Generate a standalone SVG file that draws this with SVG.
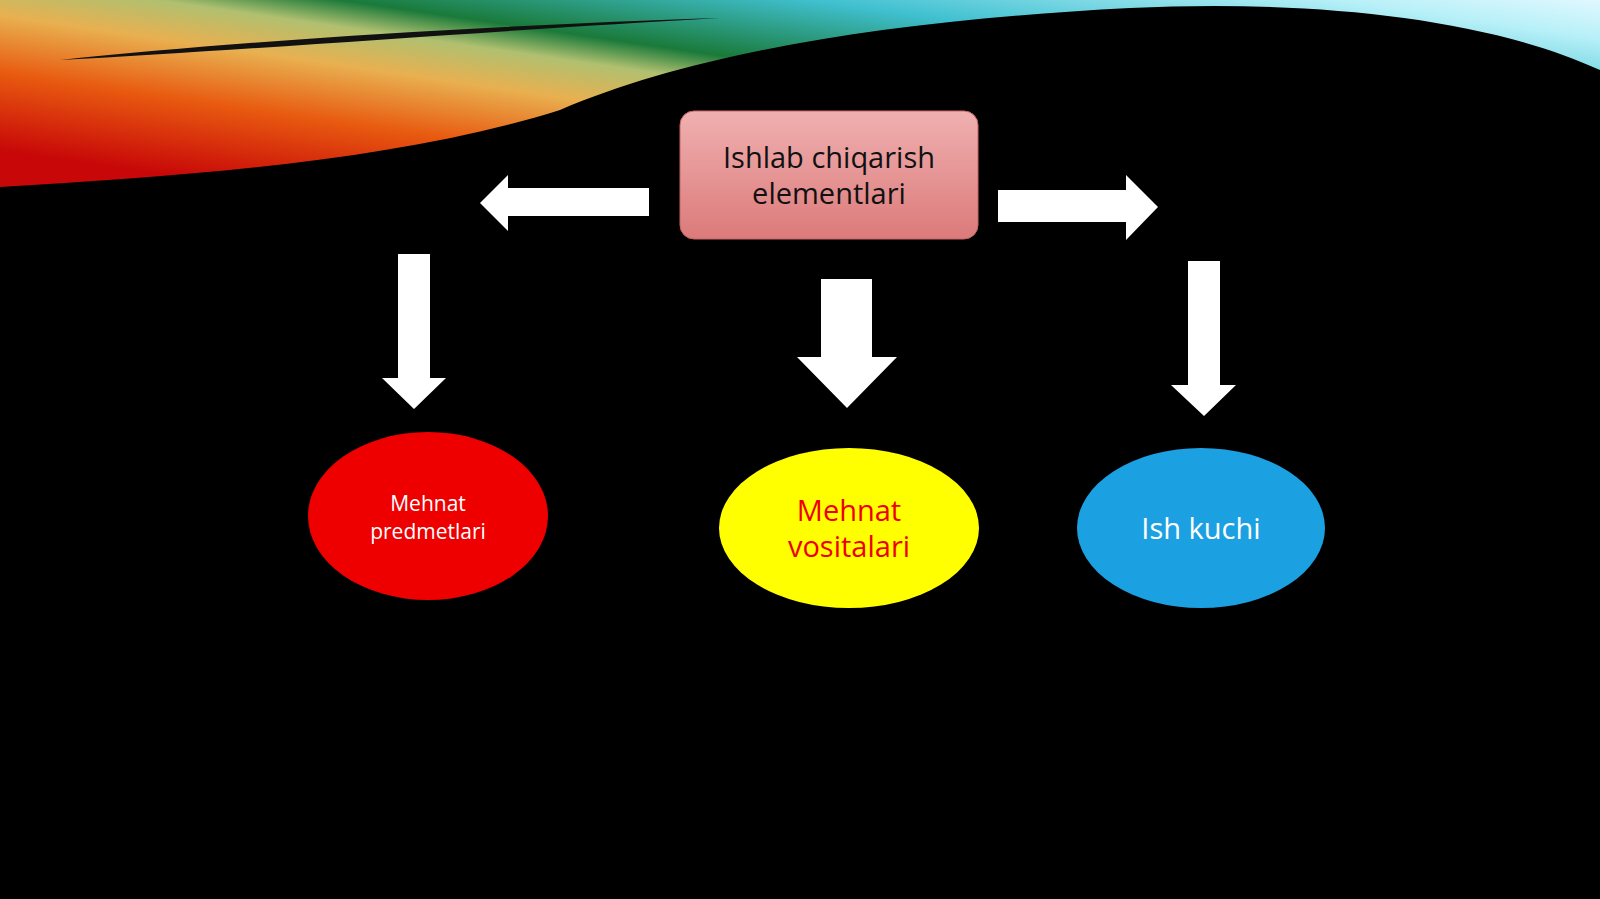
<svg xmlns="http://www.w3.org/2000/svg" width="1600" height="899" viewBox="0 0 1600 899">
<defs>
<linearGradient id="ban" x1="0" y1="0.8" x2="1" y2="0">
<stop offset="0" stop-color="#c80808"/>
<stop offset="0.2" stop-color="#e85a10"/>
<stop offset="0.35" stop-color="#e8b050"/>
<stop offset="0.45" stop-color="#b0c070"/>
<stop offset="0.52" stop-color="#1a7a3a"/>
<stop offset="0.7" stop-color="#40c0d0"/>
<stop offset="0.9" stop-color="#b8f0f8"/>
<stop offset="1" stop-color="#e0f8ff"/>
</linearGradient>
<linearGradient id="pink" x1="0" y1="0" x2="0" y2="1">
<stop offset="0" stop-color="#f0b0b0"/>
<stop offset="1" stop-color="#dc7a7a"/>
</linearGradient>
<style>
.t{font-family:"Open Sans","Noto Sans",sans-serif;text-anchor:middle}
.ar{fill:#fff}
</style>
</defs>
<rect width="1600" height="899" fill="#000"/>
<path d="M0,0 H1600 V70 C1480,15 1300,0 1130,8 C900,20 700,50 560,110 C400,160 200,175 0,187 Z" fill="url(#ban)"/>
<path d="M60,60 C250,40 500,25 720,18 C500,30 250,50 60,60 Z" fill="#111"/>
<g id="top">
<rect x="680" y="111" width="298" height="128" rx="14" fill="url(#pink)" stroke="#c86464" stroke-width="1"/>
<text class="t" x="829" y="168" font-size="29" fill="#111">Ishlab chiqarish</text>
<text class="t" x="829" y="204" font-size="29" fill="#111">elementlari</text>
</g>
<g id="connectors">
<polygon class="ar" points="649,188 508,188 508,175 480,203 508,231 508,216 649,216"/>
<polygon class="ar" points="998,190 1126,190 1126,175 1158,207 1126,240 1126,222 998,222"/>
<polygon class="ar" points="398,254 430,254 430,378 446,378 414,409 382,378 398,378"/>
<polygon class="ar" points="821,279 872,279 872,357 897,357 847,408 797,357 821,357"/>
<polygon class="ar" points="1188,261 1220,261 1220,385 1236,385 1204,416 1171,385 1188,385"/>
</g>
<g id="n1">
<ellipse cx="428" cy="516" rx="120" ry="84" fill="#ee0000"/>
<text class="t" x="428" y="511" font-size="21" fill="#fff">Mehnat</text>
<text class="t" x="428" y="539" font-size="21" fill="#fff">predmetlari</text>
</g>
<g id="n2">
<ellipse cx="849" cy="528" rx="130" ry="80" fill="#ffff00"/>
<text class="t" x="849" y="521" font-size="29" fill="#ee0000">Mehnat</text>
<text class="t" x="849" y="557" font-size="29" fill="#ee0000">vositalari</text>
</g>
<g id="n3">
<ellipse cx="1201" cy="528" rx="124" ry="80" fill="#1ba1e2"/>
<text class="t" x="1201" y="539" font-size="29" fill="#fff">Ish kuchi</text>
</g>
</svg>
